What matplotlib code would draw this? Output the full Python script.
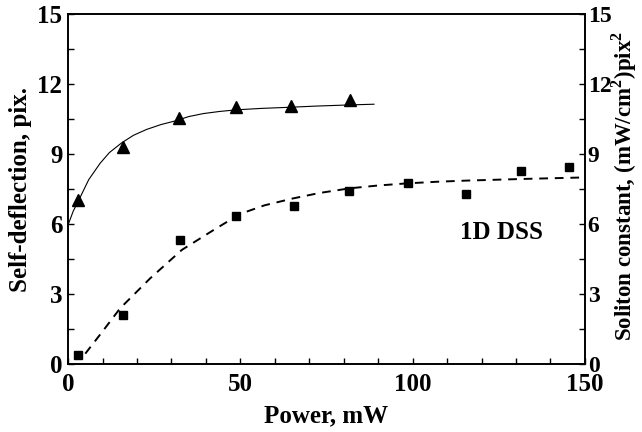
import numpy as np
import matplotlib
matplotlib.use("Agg")
import matplotlib.pyplot as plt
from matplotlib.ticker import MultipleLocator

plt.rcParams['font.family'] = ['Liberation Serif', 'DejaVu Serif']
plt.rcParams['font.weight'] = 'bold'
plt.rcParams['mathtext.fontset'] = 'custom'
plt.rcParams['mathtext.rm'] = 'Liberation Serif:bold'
plt.rcParams['mathtext.bf'] = 'Liberation Serif:bold'

# self-deflection (triangles) and its fitted curve
defl_power = [3.0, 16.0, 32.2, 48.7, 64.6, 81.7]
defl_pix = [7.05, 9.3, 10.55, 11.03, 11.06, 11.3]
defl_fit_power = [0, 1.5, 3.3, 6, 9.3, 12, 15.6, 19, 22.8, 27, 31.5, 35, 39.3, 44, 48.9, 56, 64.4, 72, 81.8, 88.8]
defl_fit_pix = [5.96, 6.55, 7.08, 7.9, 8.6, 9.06, 9.48, 9.8, 10.05, 10.26, 10.43, 10.6, 10.73, 10.82, 10.89, 10.95, 11.0, 11.05, 11.1, 11.13]

# soliton constant (squares) and its fitted curve
sol_power = [3.0, 16.0, 32.6, 48.7, 65.6, 81.6, 98.7, 115.5, 131.5, 145.4]
sol_const = [0.4, 2.1, 5.3, 6.36, 6.77, 7.4, 7.77, 7.27, 8.29, 8.46]
sol_fit_power = [5.0, 10, 15.1, 23.8, 33, 42.2, 49.9, 57, 65.4, 73, 81.8, 90, 98.3, 107, 115.7, 132, 148.5]
sol_fit_const = [0.45, 1.4, 2.39, 3.67, 4.89, 5.74, 6.43, 6.8, 7.1, 7.33, 7.53, 7.65, 7.74, 7.81, 7.86, 7.93, 7.99]

fig = plt.figure(figsize=(6.42, 4.32), dpi=100)
ax = fig.add_axes([0.106, 0.157, 0.805, 0.811])
ax2 = ax.twinx()

ax.plot(defl_fit_power, defl_fit_pix, color='black', lw=0.8)
ax.plot(defl_power, defl_pix, linestyle='none', marker='^', color='black', markersize=8.5)
ax2.plot(sol_fit_power, sol_fit_const, color='black', lw=1.4, dashes=(4.5, 3.5))
ax2.plot(sol_power, sol_const, linestyle='none', marker='s', color='black', markersize=6)

ax.set_xlim(0, 150)
for a in (ax, ax2):
    a.set_ylim(0, 15)
    a.yaxis.set_major_locator(MultipleLocator(3))
    a.yaxis.set_minor_locator(MultipleLocator(1.5))
ax.xaxis.set_major_locator(MultipleLocator(50))
ax.xaxis.set_minor_locator(MultipleLocator(10))

ax.tick_params(which='both', direction='in', length=4.5, width=1, labelsize=18, pad=4)
ax.tick_params(axis='x', which='both', top=False, pad=6)
ax2.tick_params(which='both', direction='in', length=4.5, width=1, labelsize=17, pad=2)
for a in (ax, ax2):
    for s in a.spines.values():
        s.set_linewidth(1.2)

ax.set_xlabel('Power, mW', fontsize=18, fontweight='bold', labelpad=6)
ax.set_ylabel('Self-deflection, pix.', fontsize=18, fontweight='bold', labelpad=4)
ax2.set_ylabel(r'Soliton constant, (mW/cm$^2$)pix$^2$', fontsize=16.5, fontweight='bold')
ax2.yaxis.set_label_coords(1.048, 0.51)

ax.text(125.8, 5.64, '1D DSS', fontsize=18, fontweight='bold', ha='center', va='center')

fig.savefig('out.png', dpi=100)
